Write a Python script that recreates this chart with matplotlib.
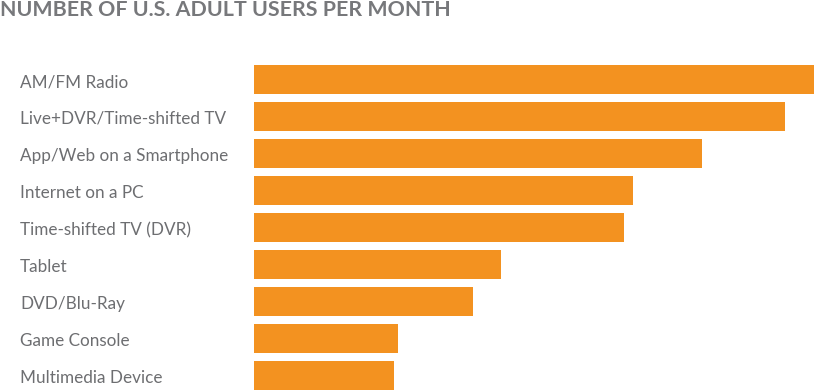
import matplotlib.pyplot as plt
import matplotlib.transforms as mtransforms

categories = ["AM/FM Radio", "Live+DVR/Time-shifted TV", "App/Web on a Smartphone",
              "Internet on a PC", "Time-shifted TV (DVR)", "Tablet", "DVD/Blu-Ray",
              "Game Console", "Multimedia Device"]
# users per month, millions
users = [228.0, 216.2, 182.4, 154.3, 150.6, 100.6, 89.2, 58.6, 57.0]

ORANGE = "#f39220"
GRAY = "#6d6e71"
W, H = 814, 390

plt.rcParams["font.family"] = ["Lato", "DejaVu Sans"]

fig = plt.figure(figsize=(W / 100, H / 100), dpi=100)
ax = fig.add_axes([254 / W, 0, 560 / W, 325 / H])

pos = range(len(categories))
bar_h = 29 / 37
ax.barh(pos, users, height=bar_h, color=ORANGE)
ax.set_xlim(0, max(users))
ax.set_ylim(len(categories) - 1 + bar_h / 2, -bar_h / 2)
ax.axis("off")

trans = mtransforms.blended_transform_factory(fig.transFigure, ax.transData)
trans = trans + mtransforms.ScaledTranslation(0, -2.5 / 100, fig.dpi_scale_trans)
for i, name in enumerate(categories):
    fig.text(20 / W, i, name, transform=trans, ha="left", va="center",
             fontsize=12.3, color=GRAY)

fig.text(0, 1 - 16 / H, "NUMBER OF U.S. ADULT USERS PER MONTH", ha="left", va="baseline",
         fontsize=15.4, fontweight="bold", color="#77787b")

fig.savefig("out.png", dpi=100)
